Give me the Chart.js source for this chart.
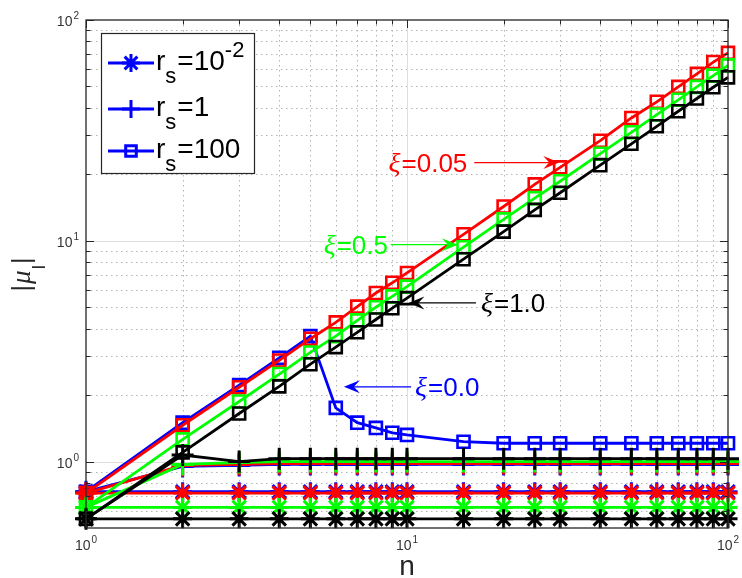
<!DOCTYPE html>
<html>
<head>
<meta charset="utf-8">
<script src="https://cdn.jsdelivr.net/npm/chart.js@4.4.0/dist/chart.umd.min.js"></script>
<style>
  html, body { margin: 0; padding: 0; background: #fff; }
  #wrap { width: 742px; height: 578px; }
</style>
</head>
<body>
<div id="wrap"><canvas id="muChart" width="742" height="578"></canvas></div>
<script>
// mode number n
const nValues = [1, 2, 3, 4, 5, 6, 7, 8, 9, 10, 15, 20, 25, 30, 40, 50, 60, 70, 80, 90, 100];

// |mu_l| for r_s = 10^-2 (asterisks)
const starXi00 = [0.73, 0.73, 0.73, 0.73, 0.73, 0.73, 0.73, 0.73, 0.73, 0.73, 0.73, 0.73, 0.73, 0.73, 0.73, 0.73, 0.73, 0.73, 0.73, 0.73, 0.73];
const starXi005 = [0.72, 0.72, 0.72, 0.72, 0.72, 0.72, 0.72, 0.72, 0.72, 0.72, 0.72, 0.72, 0.72, 0.72, 0.72, 0.72, 0.72, 0.72, 0.72, 0.72, 0.72];
const starXi05 = [0.62, 0.62, 0.62, 0.62, 0.62, 0.62, 0.62, 0.62, 0.62, 0.62, 0.62, 0.62, 0.62, 0.62, 0.62, 0.62, 0.62, 0.62, 0.62, 0.62, 0.62];
const starXi10 = [0.55, 0.55, 0.55, 0.55, 0.55, 0.55, 0.55, 0.55, 0.55, 0.55, 0.55, 0.55, 0.55, 0.55, 0.55, 0.55, 0.55, 0.55, 0.55, 0.55, 0.55];

// |mu_l| for r_s = 1 (plus signs)
const plusXi00 = [0.73, 0.95, 0.96, 0.97, 0.97, 0.97, 0.97, 0.97, 0.97, 0.97, 0.97, 0.97, 0.97, 0.97, 0.97, 0.97, 0.97, 0.97, 0.97, 0.97, 0.97];
const plusXi005 = [0.72, 0.96, 0.97, 0.98, 0.98, 0.98, 0.98, 0.98, 0.98, 0.98, 0.98, 0.98, 0.98, 0.98, 0.98, 0.98, 0.98, 0.98, 0.98, 0.98, 0.98];
const plusXi05 = [0.62, 0.97, 0.99, 1.0, 1.0, 1.0, 1.0, 1.0, 1.0, 1.0, 1.0, 1.0, 1.0, 1.0, 1.0, 1.0, 1.0, 1.0, 1.0, 1.0, 1.0];
const plusXi10 = [0.55, 1.07, 1.0, 1.03, 1.03, 1.03, 1.03, 1.03, 1.03, 1.03, 1.03, 1.03, 1.03, 1.03, 1.03, 1.03, 1.03, 1.03, 1.03, 1.03, 1.03];

// |mu_l| for r_s = 100 (squares)
const sqXi00 = [0.73, 1.5, 2.22, 2.95, 3.7, 1.75, 1.5, 1.42, 1.35, 1.32, 1.23, 1.21, 1.21, 1.21, 1.21, 1.21, 1.21, 1.21, 1.21, 1.21, 1.21];
const sqXi005 = [0.72, 1.46, 2.17, 2.87, 3.6, 4.27, 5.03, 5.8, 6.45, 7.15, 10.7, 14.3, 18.0, 21.5, 28.4, 36.0, 42.6, 49.8, 57.0, 64.5, 71.0];
const sqXi05 = [0.62, 1.26, 1.87, 2.49, 3.12, 3.7, 4.36, 5.0, 5.6, 6.2, 9.35, 12.5, 15.6, 18.6, 24.8, 31.0, 37.3, 43.5, 49.8, 56.0, 62.3];
const sqXi10 = [0.55, 1.1, 1.65, 2.19, 2.76, 3.3, 3.85, 4.4, 4.95, 5.5, 8.25, 11.0, 13.8, 16.5, 22.0, 27.5, 33.0, 38.6, 44.1, 49.6, 55.0];

// legend entries (r_s values), shown as r_s = base^sup
const rsBase = ['10', '1', '100'];
const rsSup = ['-2', '', ''];
const rsStyles = ['star', 'cross', 'rect'];

// tick positions on the log axes
const xMajorTicks = [1, 10, 100];
const xMinorTicks = [2, 3, 4, 5, 6, 7, 8, 9, 20, 30, 40, 50, 60, 70, 80, 90];
const yMajorTicks = [1, 10, 100];
const yMinorTicks = [0.6, 0.7, 0.8, 0.9, 2, 3, 4, 5, 6, 7, 8, 9, 20, 30, 40, 50, 60, 70, 80, 90];
const tickExponents = ['0', '1', '2'];

const BLUE = '#0000ff', RED = '#ff0000', GREEN = '#00ff00', BLACK = '#000000';

// xi labels with arrows, anchored in data units
const notes = [
    { xi: '0.05', color: RED,   text: [8.76, 22.6], tail: [16.2, 22.6], tip: [29.8, 22.6] },
    { xi: '0.5',  color: GREEN, text: [5.5, 9.6],   tail: [8.9, 9.6],   tip: [14.4, 9.6] },
    { xi: '1.0',  color: BLACK, text: [17.0, 5.23], tail: [16.4, 5.23], tip: [10.1, 5.23] },
    { xi: '0.0',  color: BLUE,  text: [10.6, 2.18], tail: [10.3, 2.18], tip: [6.36, 2.18] }
];

const SANS = '"Liberation Sans", Arial, Helvetica, sans-serif';
const SERIF = '"Liberation Serif", "Times New Roman", serif';

const MARK_R = { star: 9.5, cross: 11, rect: 8.5 };

function makeSet(values, color, style, layer) {
    return {
        data: nValues.map((n, i) => ({ x: n, y: values[i] })),
        borderColor: color,
        backgroundColor: 'rgba(0,0,0,0)',
        pointBorderColor: color,
        pointBackgroundColor: 'rgba(0,0,0,0)',
        pointStyle: style,
        pointRadius: MARK_R[style],
        pointBorderWidth: style === 'rect' ? 2.6 : 3,
        borderWidth: 2.8,
        tension: 0,
        clip: false,
        order: layer
    };
}

// lower order draws on top: blue first, black last
const datasets = [
    makeSet(starXi00, BLUE, 'star', 12),
    makeSet(plusXi00, BLUE, 'cross', 11),
    makeSet(sqXi00, BLUE, 'rect', 10),
    makeSet(starXi005, RED, 'star', 9),
    makeSet(plusXi005, RED, 'cross', 8),
    makeSet(sqXi005, RED, 'rect', 7),
    makeSet(starXi05, GREEN, 'star', 6),
    makeSet(plusXi05, GREEN, 'cross', 5),
    makeSet(sqXi05, GREEN, 'rect', 4),
    makeSet(starXi10, BLACK, 'star', 3),
    makeSet(plusXi10, BLACK, 'cross', 2),
    makeSet(sqXi10, BLACK, 'rect', 1)
];

// Marker shapes for the legend box
function drawMarker(ctx, style, x, y, r) {
    ctx.beginPath();
    if (style === 'star' || style === 'cross') {
        ctx.moveTo(x - r, y); ctx.lineTo(x + r, y);
        ctx.moveTo(x, y - r); ctx.lineTo(x, y + r);
    }
    if (style === 'star') {
        const d = r * Math.SQRT1_2;
        ctx.moveTo(x - d, y - d); ctx.lineTo(x + d, y + d);
        ctx.moveTo(x - d, y + d); ctx.lineTo(x + d, y - d);
    }
    if (style === 'rect') {
        const s = r * Math.SQRT1_2;
        ctx.rect(x - s, y - s, 2 * s, 2 * s);
    }
    ctx.stroke();
}

function drawArrow(ctx, x0, y0, x1, y1, color) {
    const ang = Math.atan2(y1 - y0, x1 - x0);
    ctx.save();
    ctx.strokeStyle = color;
    ctx.fillStyle = color;
    ctx.lineWidth = 1.3;
    ctx.beginPath();
    ctx.moveTo(x0, y0);
    ctx.lineTo(x1 - 10 * Math.cos(ang), y1 - 10 * Math.sin(ang));
    ctx.stroke();
    ctx.translate(x1, y1);
    ctx.rotate(ang);
    ctx.beginPath();
    ctx.moveTo(0, 0);
    ctx.lineTo(-16, -6.5);
    ctx.lineTo(-10, 0);
    ctx.lineTo(-16, 6.5);
    ctx.closePath();
    ctx.fill();
    ctx.restore();
}

// "10" with a raised exponent; align is where x sits: 'center' or 'right'
function drawPower(ctx, exp, x, y, align) {
    ctx.font = '14px ' + SANS;
    const wBase = ctx.measureText('10').width;
    ctx.font = '10px ' + SANS;
    const wExp = ctx.measureText(exp).width;
    const total = wBase + wExp + 1;
    const left = align === 'right' ? x - total : x - total / 2;
    ctx.textAlign = 'left';
    ctx.textBaseline = 'alphabetic';
    ctx.font = '14px ' + SANS;
    ctx.fillText('10', left, y);
    ctx.font = '10px ' + SANS;
    ctx.fillText(exp, left + wBase + 1, y - 7);
}

const axesDecor = {
    id: 'axesDecor',
    beforeDatasetsDraw(chart) {
        const { ctx, chartArea: a, scales: { x, y } } = chart;
        ctx.save();
        // dotted minor grid
        ctx.strokeStyle = '#b4b4b4';
        ctx.lineWidth = 1;
        ctx.setLineDash([1.5, 3.5]);
        ctx.beginPath();
        xMinorTicks.forEach(v => {
            const px = Math.round(x.getPixelForValue(v)) + 0.5;
            ctx.moveTo(px, a.top); ctx.lineTo(px, a.bottom);
        });
        yMinorTicks.forEach(v => {
            const py = Math.round(y.getPixelForValue(v)) + 0.5;
            ctx.moveTo(a.left, py); ctx.lineTo(a.right, py);
        });
        ctx.stroke();
        // solid major grid
        ctx.setLineDash([]);
        ctx.strokeStyle = '#dedede';
        ctx.beginPath();
        [10].forEach(v => {
            const px = Math.round(x.getPixelForValue(v)) + 0.5;
            ctx.moveTo(px, a.top); ctx.lineTo(px, a.bottom);
        });
        [1, 10].forEach(v => {
            const py = Math.round(y.getPixelForValue(v)) + 0.5;
            ctx.moveTo(a.left, py); ctx.lineTo(a.right, py);
        });
        ctx.stroke();
        ctx.restore();
    },
    afterDatasetsDraw(chart) {
        const { ctx, chartArea: a, scales: { x, y } } = chart;
        ctx.save();

        // box and inward ticks on all four sides
        ctx.strokeStyle = '#262626';
        ctx.lineWidth = 1.3;
        ctx.strokeRect(a.left, a.top, a.right - a.left, a.bottom - a.top);
        ctx.lineWidth = 1;
        ctx.beginPath();
        const xTick = (v, len) => {
            const px = Math.round(x.getPixelForValue(v)) + 0.5;
            ctx.moveTo(px, a.bottom); ctx.lineTo(px, a.bottom - len);
            ctx.moveTo(px, a.top); ctx.lineTo(px, a.top + len);
        };
        const yTick = (v, len) => {
            const py = Math.round(y.getPixelForValue(v)) + 0.5;
            ctx.moveTo(a.left, py); ctx.lineTo(a.left + len, py);
            ctx.moveTo(a.right, py); ctx.lineTo(a.right - len, py);
        };
        xMajorTicks.forEach(v => xTick(v, 8));
        xMinorTicks.forEach(v => xTick(v, 4.5));
        yMajorTicks.forEach(v => yTick(v, 8));
        yMinorTicks.forEach(v => yTick(v, 4.5));
        ctx.stroke();

        // tick labels
        ctx.fillStyle = '#333333';
        xMajorTicks.forEach((v, i) => drawPower(ctx, tickExponents[i], x.getPixelForValue(v), a.bottom + 22, 'center'));
        yMajorTicks.forEach((v, i) => drawPower(ctx, tickExponents[i], a.left - 7, y.getPixelForValue(v) + 6, 'right'));

        // axis titles
        ctx.fillStyle = '#262626';
        ctx.font = '28px ' + SANS;
        ctx.textAlign = 'center';
        ctx.fillText('n', (a.left + a.right) / 2, 575);

        ctx.save();
        ctx.translate(30, (a.top + a.bottom) / 2);
        ctx.rotate(-Math.PI / 2);
        const parts = [
            { t: '|', f: '25px ' + SANS, dy: 0 },
            { t: '\u03bc', f: 'italic 27px ' + SERIF, dy: 0 },
            { t: 'l', f: '19px ' + SANS, dy: 15 },
            { t: '|', f: '25px ' + SANS, dy: 0 }
        ];
        let total = 0;
        parts.forEach(p => { ctx.font = p.f; p.w = ctx.measureText(p.t).width + 1; total += p.w; });
        let cx = -total / 2;
        ctx.textAlign = 'left';
        parts.forEach(p => { ctx.font = p.f; ctx.fillText(p.t, cx, p.dy); cx += p.w; });
        ctx.restore();

        // xi annotations
        notes.forEach(nt => {
            const tx = x.getPixelForValue(nt.text[0]);
            const ty = y.getPixelForValue(nt.text[1]);
            drawArrow(ctx, x.getPixelForValue(nt.tail[0]), y.getPixelForValue(nt.tail[1]),
                x.getPixelForValue(nt.tip[0]), y.getPixelForValue(nt.tip[1]), nt.color);
            ctx.fillStyle = nt.color;
            ctx.textAlign = 'left';
            ctx.font = 'italic 28px ' + SERIF;
            ctx.fillText('\u03be', tx, ty + 9);
            const wXi = ctx.measureText('\u03be').width;
            ctx.font = '26px ' + SANS;
            ctx.fillText('=' + nt.xi, tx + wXi + 1, ty + 9);
        });

        // legend box
        const lx = 101, ly = 33, lw = 153, lh = 140;
        ctx.fillStyle = '#ffffff';
        ctx.fillRect(lx, ly, lw, lh);
        ctx.strokeStyle = '#262626';
        ctx.lineWidth = 1.2;
        ctx.strokeRect(lx + 0.5, ly + 0.5, lw, lh);
        const rows = [63, 109, 151];
        rsBase.forEach((b, i) => {
            const ry = rows[i];
            ctx.strokeStyle = BLUE;
            ctx.lineWidth = 2.8;
            ctx.beginPath();
            ctx.moveTo(108, ry); ctx.lineTo(154, ry);
            ctx.stroke();
            ctx.lineWidth = 3;
            drawMarker(ctx, rsStyles[i], 131, ry, rsStyles[i] === 'rect' ? 7.5 : 9);
            ctx.fillStyle = '#000000';
            ctx.textAlign = 'left';
            let tx = 156;
            ctx.font = '28px ' + SANS;
            ctx.fillText('r', tx, ry + 7);
            tx += ctx.measureText('r').width;
            ctx.font = '22px ' + SANS;
            ctx.fillText('s', tx, ry + 20);
            tx += ctx.measureText('s').width + 1;
            ctx.font = '28px ' + SANS;
            ctx.fillText('=' + b, tx, ry + 7);
            tx += ctx.measureText('=' + b).width;
            if (rsSup[i]) {
                ctx.font = '22px ' + SANS;
                ctx.fillText(rsSup[i], tx, ry - 6);
            }
        });

        ctx.restore();
    }
};

new Chart(document.getElementById('muChart'), {
    type: 'line',
    data: { datasets: datasets },
    options: {
        responsive: false,
        animation: false,
        devicePixelRatio: 1,
        events: [],
        layout: { padding: { left: 86, top: 20, right: 11, bottom: 50 } },
        scales: {
            x: { type: 'logarithmic', min: 1, max: 100, display: false },
            y: { type: 'logarithmic', min: 0.5, max: 100, display: false }
        },
        plugins: {
            legend: { display: false },
            tooltip: { enabled: false }
        }
    },
    plugins: [axesDecor]
});
</script>
</body>
</html>
